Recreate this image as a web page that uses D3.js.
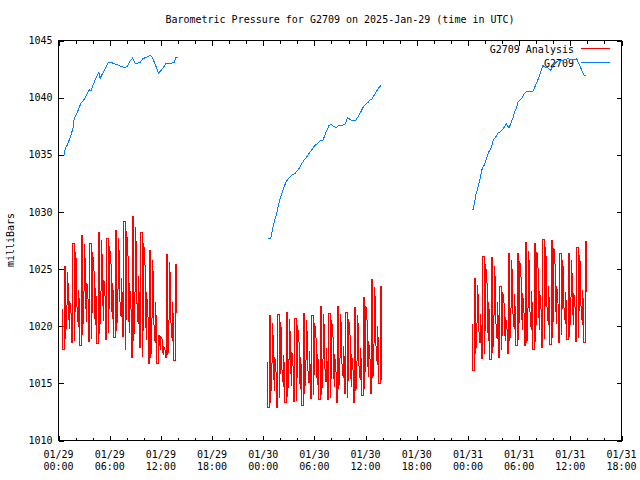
<!DOCTYPE html>
<html><head><meta charset="utf-8">
<script src="https://cdn.jsdelivr.net/npm/d3@7"></script>
<style>body{margin:0;background:#fff}</style>
</head><body>
<svg id="c" width="640" height="480"></svg>
<script>
// ---------------- DATA ----------------
const title = "Barometric Pressure for G2709 on 2025-Jan-29 (time in UTC)";
const yLabel = "milliBars";
const legendNames = ["G2709 Analysis", "G2709"];
const yTickValues = [1010, 1015, 1020, 1025, 1030, 1035, 1040, 1045];
const xStart = "2025-01-29T00:00:00Z";
const xEnd = "2025-01-31T18:00:00Z";

// G2709 observations: hours after 2025-01-29 00:00 UTC, and pressure (mb)
const obs1Hours = [0.67,0.78,1.05,1.37,1.69,1.84,2.15,2.46,2.69,2.93,3.33,3.63,3.83,4.10,4.38,4.57,4.73,4.88,5.15,5.47,5.85,6.25,6.64,7.03,7.42,7.69,8.01,8.40,8.67,8.98,9.25,9.57,9.88,10.35,10.74,10.97,11.32,11.71,12.11,12.61,12.88,13.55,13.75,13.98];
const obs1Values = [1035.0,1035.5,1035.9,1036.5,1037.3,1038.15,1038.6,1039.2,1039.6,1039.75,1040.3,1040.7,1040.6,1041.2,1041.7,1042.0,1042.2,1041.7,1042.1,1042.5,1043.1,1043.05,1042.95,1042.85,1042.7,1042.65,1042.7,1043.2,1043.45,1043.0,1043.0,1043.1,1043.4,1043.55,1043.7,1043.55,1042.95,1042.15,1042.45,1043.0,1043.0,1043.05,1043.5,1043.5];
const obs2Hours = [24.59,24.87,25.06,25.29,25.57,25.76,26.04,26.35,26.66,26.93,27.33,27.72,28.03,28.30,28.50,28.81,29.09,29.36,29.67,29.98,30.37,30.73,30.96,31.15,31.43,31.70,32.01,32.32,32.60,32.79,33.10,33.57,33.89,34.27,34.63,34.82,35.13,35.44,35.71,36.00,36.30,36.50,36.77,37.00,37.28,37.55,37.79];
const obs2Values = [1027.65,1027.65,1028.4,1029.1,1029.85,1030.55,1031.3,1032.0,1032.6,1032.9,1033.2,1033.35,1033.65,1033.9,1034.2,1034.55,1034.8,1035.1,1035.4,1035.75,1036.0,1036.25,1036.25,1036.55,1037.1,1037.55,1037.65,1037.45,1037.35,1037.55,1037.55,1037.65,1038.25,1038.05,1037.95,1038.0,1038.35,1038.75,1039.15,1039.4,1039.6,1039.8,1039.9,1040.2,1040.55,1040.85,1041.05];
const obs3Hours = [48.59,48.79,48.91,49.18,49.46,49.70,49.85,50.16,50.47,50.75,50.94,51.25,51.52,51.80,52.11,52.51,52.81,53.09,53.28,53.48,53.68,53.86,54.26,54.65,54.85,55.23,55.62,55.82,56.09,56.32,56.60,56.79,57.11,57.38,57.69,57.96,58.36,58.67,59.13,59.72,60.12,60.62,60.77,61.00,61.29,61.56,61.79];
const obs3Values = [1030.2,1030.85,1031.45,1032.15,1033.05,1033.9,1034.0,1034.65,1035.3,1035.65,1036.25,1036.55,1036.9,1037.0,1037.25,1037.7,1037.35,1037.85,1038.25,1038.75,1039.1,1039.6,1039.9,1040.4,1040.5,1040.5,1040.55,1040.9,1041.35,1041.8,1042.4,1042.8,1042.65,1042.6,1042.4,1042.8,1043.1,1043.25,1043.25,1043.4,1043.3,1043.3,1043.4,1042.95,1042.5,1042.0,1041.9];

// G2709 Analysis: samples every 10 minutes, two values (stroke ends) per sample time
const anaStepMinutes = 10;
const ana1Start = "2025-01-29T00:30:00Z";
const ana1Values = [1021.5,1018.0,
 1018.0,1025.2,1025.2,1018.9,1021.9,1024.7,1023.4,1021.1,1019.8,1022.2,1020.9,1018.6,
 1018.6,1027.2,1027.2,1018.7,1022.8,1026.5,1024.7,1021.7,1019.9,1023.2,1021.4,1018.3,
 1018.3,1027.9,1027.9,1019.2,1023.3,1027.2,1025.3,1022.2,1020.4,1023.8,1021.9,1018.7,
 1018.7,1027.2,1027.2,1018.9,1022.9,1026.5,1024.8,1021.8,1020.1,1023.3,1021.5,1018.5,
 1018.5,1028.2,1028.2,1019.3,1023.5,1027.5,1025.6,1022.4,1020.5,1024.0,1022.1,1018.8,
 1018.8,1027.7,1027.7,1019.4,1023.4,1027.0,1025.3,1022.3,1020.6,1023.8,1022.0,1019.0,
 1019.0,1028.4,1028.4,1019.6,1023.8,1027.7,1025.8,1022.6,1020.8,1024.2,1022.4,1019.1,
 1019.1,1029.2,1029.2,1017.9,1023.3,1028.3,1025.9,1021.8,1019.4,1023.8,1021.5,1017.3,
 1017.3,1029.6,1029.6,1018.7,1023.9,1028.7,1026.4,1022.5,1020.2,1024.4,1022.1,1018.1,
 1018.1,1028.2,1028.2,1017.3,1022.5,1027.3,1025.0,1021.1,1018.8,1023.0,1020.7,1016.7,
 1016.7,1026.6,1026.6,1017.2,1021.7,1025.8,1023.8,1020.5,1018.5,1022.1,1020.2,1016.7,
 1016.7,1019.2,1019.2,1018.5,1017.9,1019.1,1018.8,1017.9,1017.5,1018.3,1017.9,1017.3,
 1017.3,1026.3,1026.3,1017.5,1021.7,1025.6,1023.7,1020.5,1018.7,1022.1,1020.3,1017.0,
 1017.0,1025.4,1025.4,1021.2];
const ana2Start = "2025-01-30T00:32:00Z";
const ana2Values = [1016.9,1012.9,
 1012.9,1020.9,1020.9,1013.3,1016.9,1020.3,1018.7,1015.9,1014.3,1017.3,1015.7,1012.9,
 1012.9,1021.0,1021.0,1013.7,1017.2,1020.4,1018.8,1016.2,1014.7,1017.5,1016.0,1013.3,
 1013.3,1021.2,1021.2,1013.8,1017.3,1020.6,1019.0,1016.4,1014.8,1017.7,1016.1,1013.4,
 1013.4,1020.7,1020.7,1013.5,1016.9,1020.1,1018.6,1016.0,1014.5,1017.3,1015.8,1013.1,
 1013.1,1021.1,1021.1,1014.1,1017.4,1020.5,1019.0,1016.5,1015.0,1017.8,1016.3,1013.7,
 1013.7,1020.9,1020.9,1014.0,1017.3,1020.3,1018.9,1016.4,1014.9,1017.6,1016.2,1013.6,
 1013.6,1021.7,1021.7,1014.0,1017.7,1021.1,1019.4,1016.7,1015.1,1018.1,1016.4,1013.6,
 1013.6,1021.1,1021.1,1013.7,1017.2,1020.5,1018.9,1016.3,1014.7,1017.6,1016.0,1013.3,
 1013.3,1021.7,1021.7,1014.5,1017.9,1021.1,1019.6,1017.0,1015.5,1018.3,1016.8,1014.1,
 1014.1,1021.2,1021.2,1013.7,1017.3,1020.6,1019.0,1016.3,1014.7,1017.6,1016.1,1013.3,
 1013.3,1021.6,1021.6,1014.3,1017.8,1021.0,1019.4,1016.8,1015.3,1018.1,1016.6,1013.9,
 1013.9,1022.5,1022.5,1014.5,1018.3,1021.8,1020.2,1017.3,1015.6,1018.7,1017.0,1014.1,
 1014.1,1024.1,1024.1,1015.5,1019.6,1023.4,1021.6,1018.5,1016.6,1020.0,1018.2,1015.0,
 1015.0,1023.5,1023.5,1015.3];
const ana3Start = "2025-01-31T00:35:00Z";
const ana3Values = [1020.2,1016.1,
 1016.1,1024.2,1024.2,1017.6,1020.7,1023.6,1022.2,1019.9,1018.5,1021.1,1019.7,1017.2,
 1017.2,1026.1,1026.1,1017.6,1021.6,1025.4,1023.6,1020.5,1018.7,1022.1,1020.3,1017.1,
 1017.1,1026.0,1026.0,1017.7,1021.7,1025.3,1023.6,1020.6,1018.9,1022.1,1020.3,1017.3,
 1017.3,1023.5,1023.5,1017.9,1020.6,1023.0,1021.9,1019.8,1018.7,1020.8,1019.7,1017.6,
 1017.6,1026.4,1026.4,1018.7,1022.4,1025.8,1024.1,1021.4,1019.8,1022.8,1021.1,1018.3,
 1018.3,1026.4,1026.4,1018.8,1022.3,1025.7,1024.0,1021.5,1019.7,1022.9,1021.0,1018.3,
 1018.3,1027.3,1027.3,1018.5,1022.7,1026.6,1024.7,1021.5,1019.7,1023.1,1021.3,1018.0,
 1018.0,1027.2,1027.2,1018.6,1022.7,1026.5,1024.7,1021.6,1019.7,1023.1,1021.3,1018.1,
 1018.1,1027.6,1027.6,1018.9,1023.0,1026.9,1025.0,1021.9,1020.1,1023.5,1021.6,1018.4,
 1018.4,1027.5,1027.5,1019.0,1023.1,1026.8,1025.0,1022.0,1020.2,1023.5,1021.7,1018.6,
 1018.6,1026.4,1026.4,1019.2,1022.6,1025.8,1024.3,1021.7,1020.2,1023.0,1021.5,1018.8,
 1018.8,1026.4,1026.4,1019.1,1022.6,1025.8,1024.2,1021.6,1020.1,1022.9,1021.4,1018.7,
 1018.7,1026.9,1026.9,1019.0,1022.8,1026.2,1024.6,1021.8,1020.1,1023.2,1021.5,1018.6,
 1018.6,1027.4,1027.4,1023.0];

// ---------------- DRAW ----------------
const FONT = "'DejaVu Sans Mono', 'Liberation Mono', monospace";
const RED = "#ff0000", BLUE = "#0080ff";
const svg = d3.select("#c").style("font-family", FONT);
svg.append("rect").attr("width", 640).attr("height", 480).attr("fill", "#fff");

const t0 = new Date(xStart), t1 = new Date(xEnd);
const x = d3.scaleUtc().domain([t0, t1]).range([58.5, 621.5]);
const y = d3.scaleLinear().domain([1010, 1045]).range([440.5, 40.5]);

const majorTimes = d3.utcHour.every(6).range(t0, new Date(+t1 + 1));
const minorTimes = d3.utcHour.every(2).range(t0, new Date(+t1 + 1)).filter(d => d.getUTCHours() % 6 !== 0);

function styleAxis(g) {
  g.select(".domain").remove();
  g.selectAll(".tick line").attr("stroke", "#000").attr("shape-rendering", "crispEdges");
  g.attr("font-family", FONT).attr("font-size", 10);
  g.selectAll(".tick text").attr("fill", "#000");
}

// bottom/top axes (inward ticks)
svg.append("g").attr("transform", "translate(0,440.5)")
  .call(d3.axisBottom(x).tickValues(majorTimes).tickSize(-5).tickFormat(() => "")).call(styleAxis);
svg.append("g").attr("transform", "translate(0,440.5)")
  .call(d3.axisBottom(x).tickValues(minorTimes).tickSize(-3).tickFormat(() => "")).call(styleAxis);
svg.append("g").attr("transform", "translate(0,40.5)")
  .call(d3.axisTop(x).tickValues(majorTimes).tickSize(-5).tickFormat(() => "")).call(styleAxis);
svg.append("g").attr("transform", "translate(0,40.5)")
  .call(d3.axisTop(x).tickValues(minorTimes).tickSize(-3).tickFormat(() => "")).call(styleAxis);
// left/right axes
svg.append("g").attr("transform", "translate(58.5,0)")
  .call(d3.axisLeft(y).tickValues(yTickValues).tickSize(-5).tickPadding(6).tickFormat(d3.format("d"))).call(styleAxis);
svg.append("g").attr("transform", "translate(621.5,0)")
  .call(d3.axisRight(y).tickValues(yTickValues).tickSize(-5).tickFormat(() => "")).call(styleAxis);

// x tick labels (two lines)
const fmtDay = d3.utcFormat("%m/%d"), fmtHour = d3.utcFormat("%H:%M");
const xl = svg.append("g").attr("font-size", 10).attr("text-anchor", "middle").attr("fill", "#000");
majorTimes.forEach(d => {
  const t = xl.append("text");
  t.append("tspan").attr("x", x(d)).attr("y", 458).text(fmtDay(d));
  t.append("tspan").attr("x", x(d)).attr("y", 470).text(fmtHour(d));
});

// border
svg.append("rect").attr("x", 58.5).attr("y", 40.5).attr("width", 563).attr("height", 400)
  .attr("fill", "none").attr("stroke", "#000").attr("shape-rendering", "crispEdges");

// title and y label
svg.append("text").attr("x", 340).attr("y", 23).attr("text-anchor", "middle")
  .attr("font-size", 10).text(title);
svg.append("text").attr("transform", "translate(14,240) rotate(-90)").attr("text-anchor", "middle")
  .attr("font-size", 10).text(yLabel);

// legend
const legY = [48.5, 62.5], legCol = [RED, BLUE];
legendNames.forEach((n, i) => {
  svg.append("text").attr("x", 574).attr("y", legY[i] + 4).attr("text-anchor", "end")
    .attr("font-size", 10).text(n);
  svg.append("line").attr("x1", 581).attr("x2", 610).attr("y1", legY[i]).attr("y2", legY[i])
    .attr("stroke", legCol[i]).attr("shape-rendering", "crispEdges");
});

// series
const line = d3.line().x(d => x(d.t)).y(d => y(d.v));
const hrs = h => new Date(+t0 + h * 3600e3);

function anaPoints(start, vals) {
  const s = Date.parse(start);
  return vals.map((v, j) => ({ t: new Date(s + Math.floor(j / 2) * anaStepMinutes * 60e3), v }));
}
[[ana1Start, ana1Values], [ana2Start, ana2Values], [ana3Start, ana3Values]].forEach(([s, v]) => {
  svg.append("path").datum(anaPoints(s, v)).attr("d", line)
    .attr("fill", "none").attr("stroke", RED).attr("stroke-width", 1)
    .attr("shape-rendering", "crispEdges");
});
[[obs1Hours, obs1Values], [obs2Hours, obs2Values], [obs3Hours, obs3Values]].forEach(([h, v]) => {
  svg.append("path").datum(h.map((hh, i) => ({ t: hrs(hh), v: v[i] }))).attr("d", line)
    .attr("fill", "none").attr("stroke", BLUE).attr("stroke-width", 1)
    .attr("shape-rendering", "crispEdges");
});
</script>
</body></html>
